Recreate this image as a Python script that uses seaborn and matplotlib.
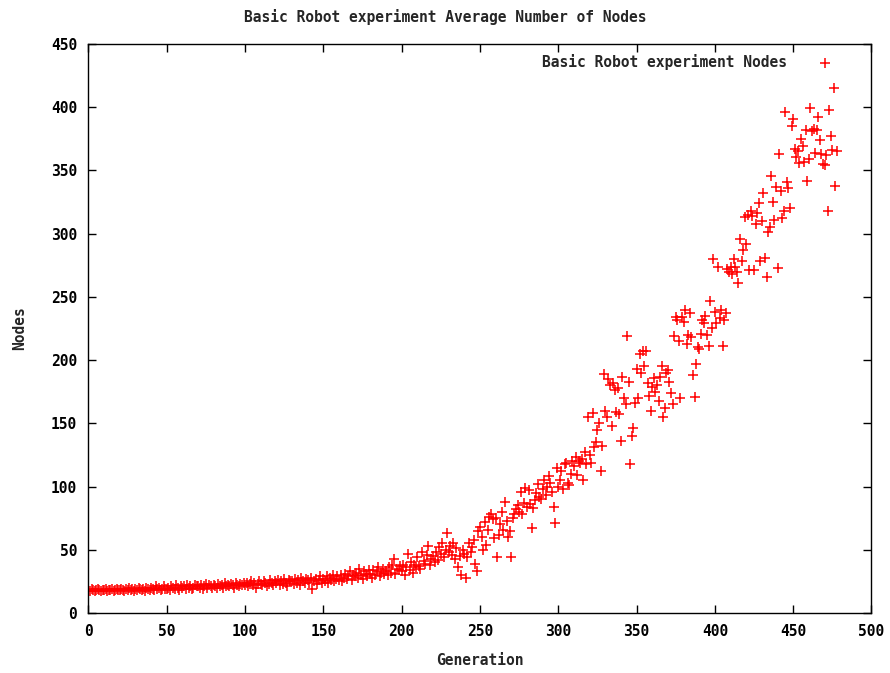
import numpy as np
import pandas as pd
import seaborn as sns
import matplotlib
matplotlib.use("Agg")
import matplotlib.pyplot as plt

# Average node count per generation (generations 0..478)
nodes = [
    18, 17, 19, 18, 17, 18, 19, 18, 17, 18,
    18, 19, 17, 18, 18, 19, 17, 18, 19, 18,
    18, 19, 18, 17, 19, 18, 20, 18, 19, 17,
    19, 18, 20, 19, 18, 19, 17, 20, 19, 18,
    20, 19, 18, 21, 19, 20, 18, 19, 21, 19,
    19, 20, 18, 21, 20, 19, 22, 20, 18, 21,
    20, 21, 19, 22, 20, 21, 19, 20, 22, 21,
    21, 20, 22, 19, 21, 23, 20, 22, 21, 20,
    22, 21, 20, 23, 21, 22, 20, 24, 21, 22,
    21, 23, 22, 20, 24, 22, 21, 23, 22, 24,
    22, 24, 21, 23, 25, 22, 24, 20, 23, 25,
    23, 22, 25, 24, 21, 23, 26, 24, 22, 25,
    24, 26, 22, 25, 23, 27, 24, 21, 26, 25,
    25, 23, 27, 24, 26, 22, 28, 25, 24, 27,
    26, 24, 28, 19, 25, 27, 23, 26, 29, 24,
    27, 25, 29, 24, 28, 26, 30, 25, 27, 29,
    26, 30, 25, 28, 31, 27, 29, 33, 26, 30,
    29, 32, 28, 35, 30, 27, 33, 31, 29, 34,
    31, 28, 34, 30, 33, 36, 29, 32, 35, 31,
    33, 30, 36, 32, 38, 43, 31, 35, 34, 37,
    33, 38, 30, 36, 47, 34, 40, 32, 38, 36,
    44, 37, 35, 48, 41, 39, 46, 53, 38, 43,
    45, 40, 48, 42, 52, 47, 55, 44, 50, 63,
    48, 53, 46, 55, 43, 51, 36, 45, 30, 50,
    47, 28, 44, 55, 48, 52, 58, 39, 33, 65,
    68, 60, 50, 72, 54, 66, 76, 78, 74, 59,
    75, 44, 62, 70, 80, 66, 88, 73, 60, 65,
    44, 75, 78, 82, 85, 80, 96, 78, 87, 99,
    84, 97, 86, 67, 83, 89, 95, 102, 92, 90,
    98, 105, 93, 100, 108, 103, 96, 84, 71, 115,
    100, 105, 112, 98, 118, 119, 103, 101, 110, 120,
    116, 123, 109, 120, 119, 122, 105, 127, 118, 155,
    125, 119, 158, 131, 135, 145, 150, 112, 132, 189,
    160, 155, 185, 180, 148, 182, 176, 159, 178, 157,
    136, 187, 170, 165, 219, 183, 118, 140, 146, 166,
    193, 170, 205, 190, 207, 195, 207, 182, 172, 160,
    179, 186, 175, 180, 168, 187, 195, 155, 162, 190,
    192, 183, 174, 165, 219, 234, 232, 215, 170, 234,
    230, 240, 213, 220, 237, 218, 188, 171, 197, 210,
    209, 221, 232, 229, 235, 220, 211, 247, 225, 280,
    238, 229, 274, 233, 240, 211, 232, 237, 272, 270,
    274, 268, 280, 274, 270, 261, 296, 278, 287, 313,
    292, 315, 271, 318, 314, 271, 308, 316, 324, 278,
    310, 332, 281, 266, 301, 305, 346, 325, 311, 337,
    273, 363, 334, 312, 318, 396, 341, 336, 320, 385,
    391, 367, 361, 365, 356, 375, 369, 357, 382, 342,
    359, 399, 381, 383, 364, 382, 392, 374, 363, 355,
    354, 362, 318, 398, 377, 366, 415, 338, 365,
]
generations = list(range(len(nodes)))

x_ticks = [0, 50, 100, 150, 200, 250, 300, 350, 400, 450, 500]
y_ticks = [0, 50, 100, 150, 200, 250, 300, 350, 400, 450]

title = "Basic Robot experiment Average Number of Nodes"
series_label = "Basic Robot experiment Nodes"

df = pd.DataFrame({"Generation": generations, "Nodes": nodes})

sns.set_theme(style="white")
plt.rcParams["font.family"] = ["DejaVu Sans Mono"]
plt.rcParams["font.weight"] = "bold"

fig = plt.figure(figsize=(8.9, 6.73), dpi=100)
ax = fig.add_axes([0.0994, 0.0892, 0.8798, 0.8454])

sns.scatterplot(data=df, x="Generation", y="Nodes", ax=ax, marker="+",
                color="#ff0000", s=60, linewidth=1.1, label=series_label)

ax.set_xlim(0, 500)
ax.set_ylim(0, 450)
ax.set_xticks(x_ticks)
ax.set_yticks(y_ticks)
ax.tick_params(direction="in", length=6, width=1, colors="black",
               top=True, right=True, bottom=True, left=True,
               labelsize=10.5, pad=8)
for lab in ax.get_xticklabels() + ax.get_yticklabels():
    lab.set_fontweight("bold")
for sp in ax.spines.values():
    sp.set_color("black")
    sp.set_linewidth(1)

ax.set_xlabel("Generation", fontsize=10.5, fontweight="bold", labelpad=10)
ax.set_ylabel("Nodes", fontsize=10.5, fontweight="bold", labelpad=17)
fig.text(0.5, 0.974, title, ha="center", va="center",
         fontsize=10.5, fontweight="bold")

leg = ax.legend(loc="upper right", bbox_to_anchor=(0.972, 1.0),
                frameon=False, markerfirst=False,
                handletextpad=1.6, borderaxespad=0.3,
                prop={"weight": "bold", "size": 10.5})

fig.savefig("out.png", dpi=100)
